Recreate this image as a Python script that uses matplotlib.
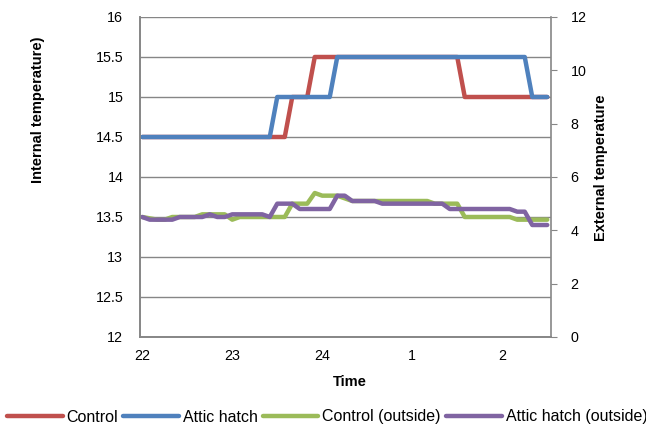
import matplotlib
matplotlib.use('Agg')
import matplotlib.pyplot as plt

plt.rcParams['font.family'] = ['Liberation Sans', 'DejaVu Sans']
plt.rcParams['font.size'] = 10.3

# readings every 5 minutes from 22:00
hour_labels = ['22', '23', '24', '1', '2']
control = [14.5] * 20 + [15.0] * 3 + [15.5] * 20 + [15.0] * 12
attic_hatch = [14.5] * 18 + [15.0] * 8 + [15.5] * 26 + [15.0] * 3
control_out = ([4.5, 4.45, 4.4, 4.4, 4.5, 4.5, 4.5, 4.5, 4.6, 4.6, 4.6, 4.6,
                4.4, 4.5, 4.5, 4.5, 4.5, 4.5, 4.5, 4.5, 5.0, 5.0, 5.0, 5.4,
                5.3, 5.3, 5.3, 5.2, 5.1, 5.1, 5.1, 5.1, 5.1, 5.1, 5.1, 5.1,
                5.1, 5.1, 5.1, 5.0, 5.0, 5.0, 5.0, 4.5, 4.5, 4.5, 4.5, 4.5,
                4.5, 4.5, 4.4, 4.4, 4.4, 4.4, 4.4])
attic_out = ([4.5, 4.4, 4.4, 4.4, 4.4, 4.5, 4.5, 4.5, 4.5, 4.6, 4.5, 4.5,
              4.6, 4.6, 4.6, 4.6, 4.6, 4.5, 5.0, 5.0, 5.0, 4.8, 4.8, 4.8,
              4.8, 4.8, 5.3, 5.3, 5.1, 5.1, 5.1, 5.1, 5.0, 5.0, 5.0, 5.0,
              5.0, 5.0, 5.0, 5.0, 5.0, 4.8, 4.8, 4.8, 4.8, 4.8, 4.8, 4.8,
              4.8, 4.8, 4.7, 4.7, 4.2, 4.2, 4.2])

x = list(range(len(control)))
grey = '#868686'

fig = plt.figure(figsize=(6.46, 4.30), dpi=100)
ax = fig.add_axes([140/646, 1 - 337/430, 411/646, 320/430])
ax2 = ax.twinx()

l1, = ax.plot(x, control, color='#C0504D', lw=3.2, solid_capstyle='round', label='Control')
l2, = ax.plot(x, attic_hatch, color='#4F81BD', lw=3.2, solid_capstyle='round', label='Attic hatch')
l3, = ax2.plot(x, control_out, color='#9BBB59', lw=3.2, solid_capstyle='round', label='Control (outside)')
l4, = ax2.plot(x, attic_out, color='#8064A2', lw=3.2, solid_capstyle='round', label='Attic hatch (outside)')

ax.set_xlim(-0.3, 54.5)
ax.set_ylim(12, 16)
ax.set_yticks([12, 12.5, 13, 13.5, 14, 14.5, 15, 15.5, 16])
ax.set_yticklabels(['12', '12.5', '13', '13.5', '14', '14.5', '15', '15.5', '16'])
ax.yaxis.grid(True, color=grey, lw=1)
ax.set_axisbelow(True)
ax.set_xticks([0, 12, 24, 36, 48])
ax.set_xticklabels(hour_labels)
ax.tick_params(axis='both', length=0, pad=9)
ax.tick_params(axis='y', pad=12)

ax2.set_ylim(0, 12)
ax2.set_yticks([0, 2, 4, 6, 8, 10, 12])
ax2.tick_params(axis='y', length=4, color=grey, pad=10)

for a in (ax, ax2):
    a.spines['top'].set_visible(False)
    for side in ('left', 'right', 'bottom'):
        a.spines[side].set_color(grey)
        a.spines[side].set_linewidth(1.2)
ax.spines['right'].set_visible(False)

fig.text(38/646, 1 - 110/430, 'Internal temperature)', rotation=90, fontweight='bold',
         fontsize=10.5, ha='center', va='center')
fig.text(601/646, 1 - 168/430, 'External temperature', rotation=90, fontweight='bold',
         fontsize=10.5, ha='center', va='center')
fig.text(350/646, 1 - 382/430, 'Time', fontweight='bold', fontsize=10.5, ha='center', va='center')

fig.legend(handles=[l1, l2, l3, l4], loc='center', bbox_to_anchor=(327/646, 1 - 417/430),
           ncol=4, frameon=False, fontsize=11.5, handlelength=3.5, handletextpad=0.25,
           columnspacing=0.3, borderaxespad=0, borderpad=0)

fig.savefig('out.png', dpi=100)
